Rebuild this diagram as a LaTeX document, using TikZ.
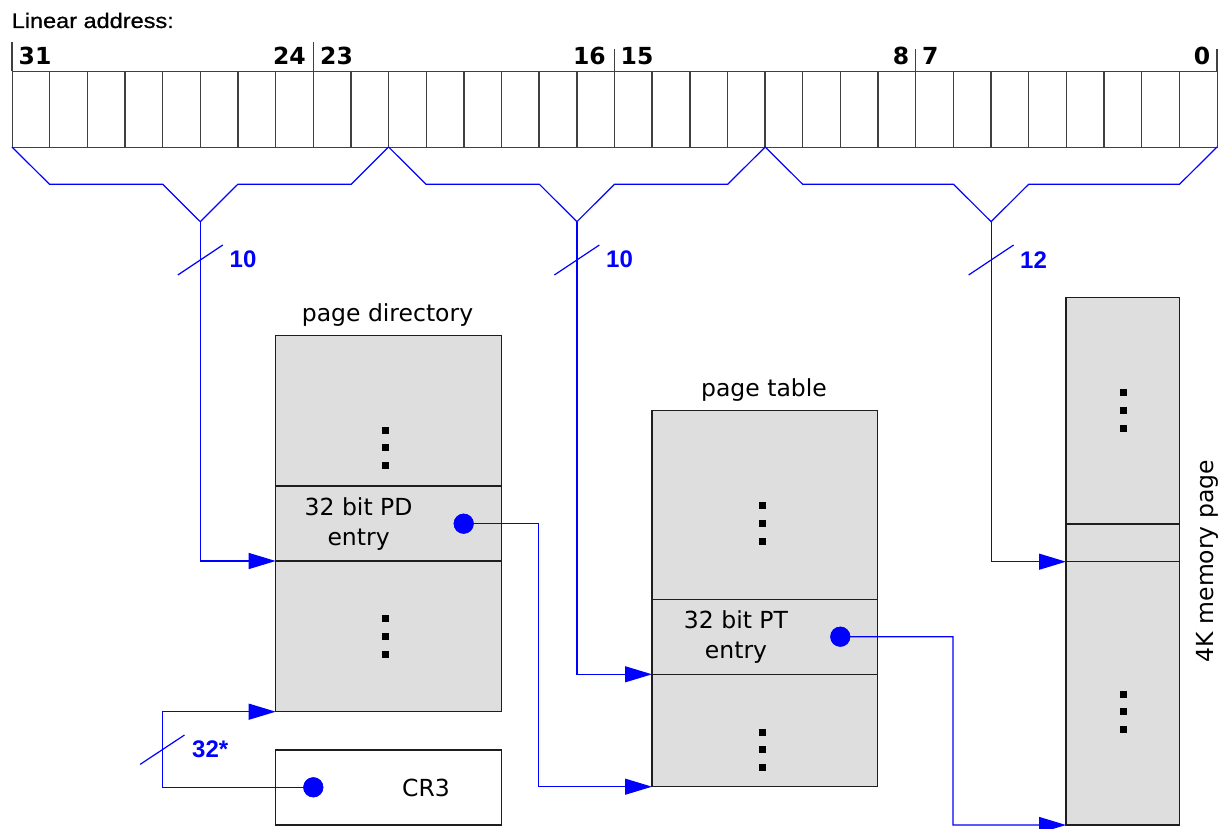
\documentclass[tikz,border=0pt]{standalone}
\usepackage{fontspec}
\setmainfont{DejaVu Sans}
\newfontfamily\arialf{Liberation Sans}
\newfontfamily\arialtitle[FakeBold=0.8]{Liberation Sans}
\usetikzlibrary{arrows.meta}
\definecolor{boxgray}{RGB}{222,222,222}
\definecolor{edgec}{RGB}{30,30,30}
\definecolor{wirec}{RGB}{0,0,255}
\begin{document}
\begin{tikzpicture}[x=1pt,y=-1pt,
  section/.style={draw=edgec, fill=boxgray, line width=1.3pt, inner sep=0pt, outer sep=0pt, anchor=north west},
  wire/.style={draw=wirec, line width=1.2pt},
  arr/.style={wire, -{Triangle[length=27pt,width=16pt]}},
  bluedot/.style={circle, fill=wirec, minimum size=20pt, inner sep=0pt},
  boxtext/.style={font=\fontsize{23.5}{30}\selectfont, inner sep=0pt, align=center},
  bitnum/.style={font=\fontsize{23.5}{28}\selectfont\bfseries, inner sep=0pt},
  widthlbl/.style={font=\arialf\fontsize{24}{28}\selectfont\bfseries, text=wirec, inner sep=0pt, anchor=west},
  cellline/.style={draw=edgec!85, line width=1.4pt}
]
\useasboundingbox (0,0) rectangle (1219,829);

% title
\node[inner sep=0pt, anchor=base west] (title) at (11.5,28) {\scalebox{1.12}[1]{\arialtitle\fontsize{21}{24}\selectfont Linear address:}};

% register
\node[cellline, minimum width=1205pt, minimum height=76pt, inner sep=0pt, anchor=north west] (reg) at (12,71) {};
\foreach \i in {1,...,31}{
  \draw[cellline] ({12+\i*37.656},71) -- ({12+\i*37.656},147);
}
\draw[cellline] (12,42) -- (12,71);
\draw[cellline] (313.25,42) -- (313.25,71);
\draw[cellline] (614.5,49) -- (614.5,71);
\draw[cellline] (915.75,49) -- (915.75,71);
\draw[cellline] (1217,49) -- (1217,71);

\node[bitnum, anchor=base west] (b31) at (18.5,65) {31};
\node[bitnum, anchor=base east] (b24) at (306,65) {24};
\node[bitnum, anchor=base west] (b23) at (320,65) {23};
\node[bitnum, anchor=base east] (b16) at (606,65) {16};
\node[bitnum, anchor=base west] (b15) at (620.5,65) {15};
\node[bitnum, anchor=base east] (b8) at (909.5,65) {8};
\node[bitnum, anchor=base west] (b7) at (922,65) {7};
\node[bitnum, anchor=base east] (b0) at (1210.5,65) {0};

% brackets
\coordinate (a1) at (200.3,221.7);
\coordinate (a2) at (576.9,221.7);
\coordinate (a3) at (991.1,221.7);
\draw[wire] (12,147) -- (49.5,184.3) -- (162.8,184.3) -- (a1) -- (237.8,184.3) -- (351.1,184.3) -- (388.6,147);
\draw[wire] (388.6,147) -- (426.1,184.3) -- (539.4,184.3) -- (a2) -- (614.4,184.3) -- (727.7,184.3) -- (765.2,147);
\draw[wire] (765.2,147) -- (802.7,184.3) -- (953.6,184.3) -- (a3) -- (1028.6,184.3) -- (1179.5,184.3) -- (1217,147);

% page directory
\node[section, minimum width=226pt, minimum height=150.3pt] (pdtop) at (275.7,335.7) {};
\node[section, minimum width=226pt, minimum height=75pt] (pdentry) at (275.7,486) {};
\node[section, minimum width=226pt, minimum height=150.7pt] (pdbot) at (275.7,561) {};
\node[boxtext, anchor=base] (pdlabel) at (387.5,321.5) {page directory};
\node[boxtext] (pdtext) at (358.6,523.8) {32 bit PD\\entry};

% page table
\node[section, minimum width=225.7pt, minimum height=188.6pt] (pttop) at (652,410.7) {};
\node[section, minimum width=225.7pt, minimum height=75pt] (ptentry) at (652,599.3) {};
\node[section, minimum width=225.7pt, minimum height=112.4pt] (ptbot) at (652,674.3) {};
\node[boxtext, anchor=base] (ptlabel) at (764,396.7) {page table};
\node[boxtext] (pttext) at (736,637.3) {32 bit PT\\entry};

% memory page
\node[section, minimum width=113.3pt, minimum height=226.7pt] (mptop) at (1066,297.3) {};
\node[section, minimum width=113.3pt, minimum height=37.7pt] (mpmid) at (1066,524) {};
\node[section, minimum width=113.3pt, minimum height=263.3pt] (mpbot) at (1066,561.7) {};
\node[boxtext, rotate=90, anchor=base] (mplabel) at (1213.5,561) {4K memory page};

% CR3
\node[section, fill=white, minimum width=226pt, minimum height=75pt] (cr3) at (275.7,750) {};
\node[boxtext, anchor=base] (cr3text) at (426,796) {CR3};

% vertical dots
\foreach \x/\y in {385.3/430, 385.3/618.7, 762.3/505.7, 762.3/732, 1123.7/392.7, 1123.7/694}{
  \foreach \k in {0,1,2}{
    \fill[black] ({\x-3.5},{\y+\k*17.9-3.5}) rectangle ({\x+3.5},{\y+\k*17.9+3.5});
  }
}

% connectors
\draw[arr] (a1) |- (pdentry.south west);
\draw[arr] (a2) |- (ptentry.south west);
\draw[arr] (a3) |- (mpmid.south west);

\node[bluedot] (pddot) at (463.7,523.7) {};
\node[bluedot] (ptdot) at (840.3,636.7) {};
\node[bluedot] (cr3dot) at (313.3,787.3) {};

\coordinate (k1) at (538.7,786.7);
\coordinate (k2) at (953,825);
\coordinate (k3) at (162.3,749.7);
\draw[arr] (pddot.center) -| (k1) -- (ptbot.south west);
\draw[arr] (ptdot.center) -| (k2) -- (mpbot.south west);
\draw[arr] (cr3dot.center) -| (k3) |- (pdbot.south west);
\node[bluedot] at (pddot) {};
\node[bluedot] at (ptdot) {};
\node[bluedot] at (cr3dot) {};

% width slashes and labels
\coordinate (s1) at (200.3,260);
\coordinate (s2) at (576.9,260);
\coordinate (s3) at (991.1,260);
\draw[wire] ([shift={(-22.5,15)}]s1) -- ([shift={(22.5,-15)}]s1);
\draw[wire] ([shift={(-22.5,15)}]s2) -- ([shift={(22.5,-15)}]s2);
\draw[wire] ([shift={(-22.5,15)}]s3) -- ([shift={(22.5,-15)}]s3);
\draw[wire] ([shift={(-22.2,14.7)}]k3) -- ([shift={(22.2,-14.7)}]k3);
\node[widthlbl] (w1) at (229.5,259.7) {10};
\node[widthlbl] (w2) at (606,259.7) {10};
\node[widthlbl] (w3) at (1020,259.7) {12};
\node[widthlbl] (w4) at (192,748.8) {32*};
\end{tikzpicture}
\end{document}
